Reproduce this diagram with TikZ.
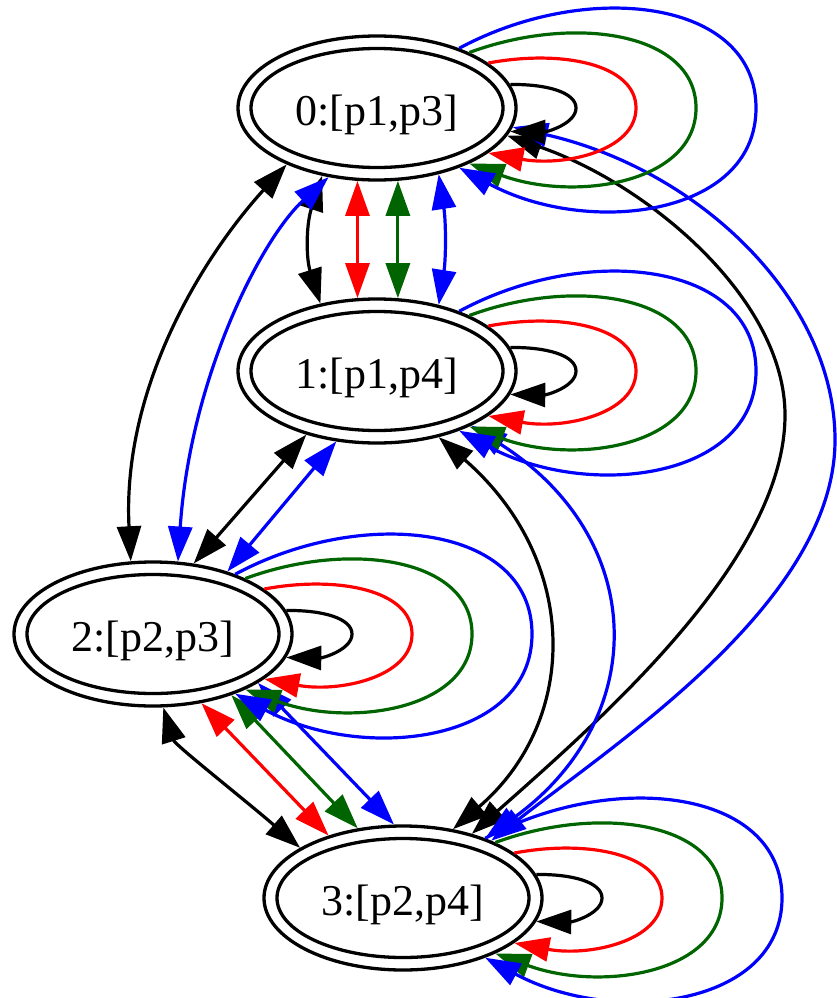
\documentclass[tikz,border=0pt]{standalone}
\usepackage{fontspec}
\setmainfont{Liberation Serif}
\usetikzlibrary{arrows.meta,shapes.geometric,calc}
\definecolor{gvgreen}{HTML}{006400}
\tikzset{
  st/.style={ellipse, draw, line width=3.3pt, minimum width=278pt, minimum height=144pt,
    inner sep=0pt, text height=34pt, text depth=0pt, font=\fontsize{44pt}{50pt}\selectfont},
  ln/.style={line width=3.2pt},
  onehead/.style={-{Triangle[length=35pt,width=24pt]}},
  twohead/.style={{Triangle[length=35pt,width=24pt]}-{Triangle[length=35pt,width=24pt]}},
}
\newcommand\fourloops[1]{%
  \draw[ln,onehead,black] (#1.10.7)
    .. controls ($(#1.center)+(169.7,-24)$) and ($(#1.center)+(199,-15.7)$) .. ($(#1.center)+(199,0)$)
    .. controls ($(#1.center)+(199,15.7)$) and ($(#1.center)+(169.7,24)$) .. (#1.-10.7);
  \draw[ln,onehead,red] (#1.22.4)
    .. controls ($(#1.center)+(184.9,-58.8)$) and ($(#1.center)+(259,-43.7)$) .. ($(#1.center)+(259,0)$)
    .. controls ($(#1.center)+(259,43.7)$) and ($(#1.center)+(184.9,58.8)$) .. (#1.-22.4);
  \draw[ln,onehead,gvgreen] (#1.31)
    .. controls ($(#1.center)+(197.1,-94.1)$) and ($(#1.center)+(319,-75.7)$) .. ($(#1.center)+(319,0)$)
    .. controls ($(#1.center)+(319,75.7)$) and ($(#1.center)+(197.1,94.1)$) .. (#1.-31);
  \draw[ln,onehead,blue] (#1.36.9)
    .. controls ($(#1.center)+(210.4,-128.8)$) and ($(#1.center)+(379,-108.9)$) .. ($(#1.center)+(379,0)$)
    .. controls ($(#1.center)+(379,108.9)$) and ($(#1.center)+(210.4,128.8)$) .. (#1.-36.9);
}
\begin{document}
\begin{tikzpicture}[x=1pt,y=-1pt]
\useasboundingbox (0,0) rectangle (836,998);
% states
\node[st] (n0) at (377,108) {0:[p1,p3]};
\node[st] (n1) at (377,371) {1:[p1,p4]};
\node[st] (n2) at (153,634) {2:[p2,p3]};
\node[st] (n3) at (403,898) {3:[p2,p4]};
\foreach \n in {n0,n1,n2,n3}
  \draw[line width=3.3pt] (\n.center) ellipse [x radius=126pt, y radius=59.5pt];
% black edges
\draw[ln,twohead] (n0.-129.2) .. controls (306,225) and (306,258) .. (n1.130.9);
\draw[ln,twohead] (n0.-148.2) .. controls (200,260) and (122,390) .. (n2.107.7);
\draw[ln,twohead] (n0.-12.5) .. controls (650,185) and (785,300) .. (785,415)
   .. controls (785,560) and (600,720) .. (n3.43.4);
\draw[ln,twohead] (n1.-138.4) -- (n2.60.6);
\draw[ln,twohead] (n1.-47.7) .. controls (580,560) and (580,720) .. (n3.54.8);
\draw[ln,twohead] (n2.-82.2) .. controls (175,745) and (245,800) .. (n3.154.1);
% red edges
\draw[ln,twohead,red] (n0.-105.5) -- (n1.105.3);
\draw[ln,twohead,red] (n2.-55.7) -- (n3.140);
% green edges
\draw[ln,twohead,gvgreen] (n0.-74.5) -- (n1.74.7);
\draw[ln,twohead,gvgreen] (n2.-38.4) -- (n3.123.3);
% blue edges
\draw[ln,twohead,blue] (n0.-47.7) .. controls (446,222) and (446,258) .. (n1.47.7);
\draw[ln,twohead,blue] (n0.-125.4) .. controls (260,240) and (190,380) .. (n2.71.6);
\draw[ln,twohead,blue] (n0.-8.4) .. controls (700,170) and (835,300) .. (835,440)
   .. controls (835,600) and (620,740) .. (n3.33);
\draw[ln,twohead,blue] (n1.-120.1) -- (n2.40);
\draw[ln,twohead,blue] (n1.-30.3) .. controls (650,540) and (650,720) .. (n3.36);
\draw[ln,twohead,blue] (n2.-25.2) -- (n3.97.8);
% self loops
\fourloops{n0}
\fourloops{n1}
\fourloops{n2}
\fourloops{n3}
\end{tikzpicture}
\end{document}
